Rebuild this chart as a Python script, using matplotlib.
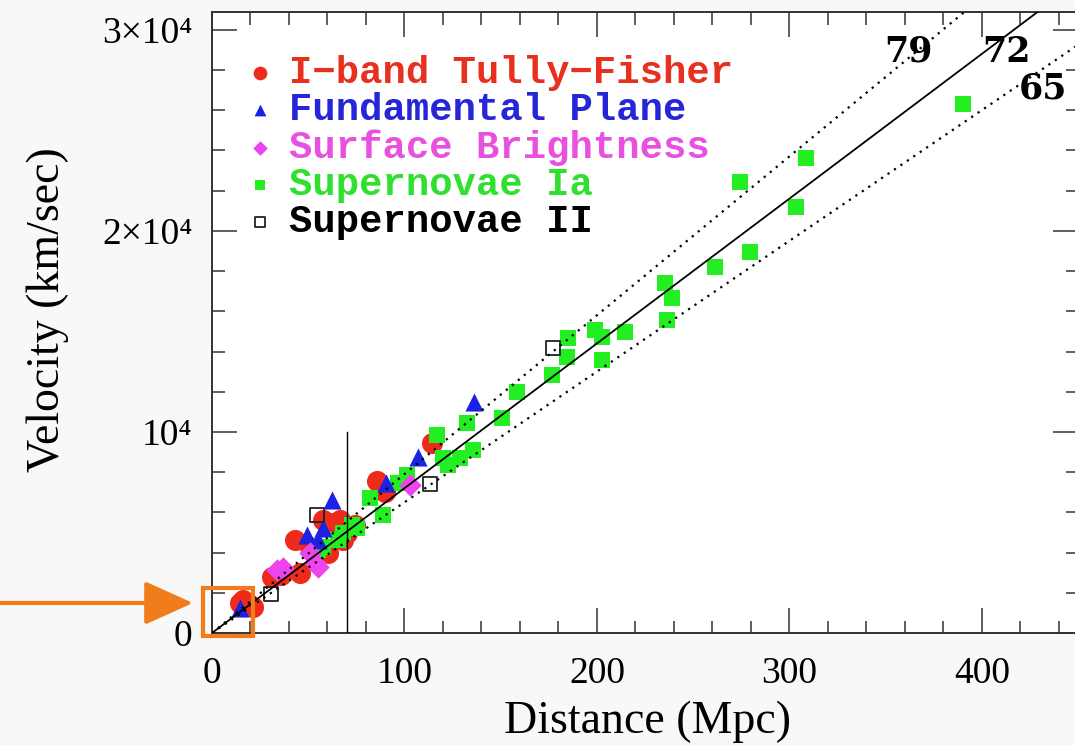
import numpy as np
import matplotlib
matplotlib.use("Agg")
from matplotlib import pyplot as plt
from matplotlib.patches import Rectangle
from matplotlib.ticker import MultipleLocator

# Hubble diagram data (distance in Mpc, velocity in km/s)
tf_d = [114.3, 85.7, 89.9, 43.0, 45.7, 31.2, 16.1, 19.7, 21.3, 14.5, 57.7, 66.5,
        62.9, 70.1, 68.0, 50.9, 60.3, 74.3, 36.0]
tf_v = [9450, 7560, 7010, 4630, 2980, 2790, 1640, 1390, 1290, 1490, 5620, 5620,
        5470, 4970, 4630, 4280, 3980, 5370, 2880]

fp_d = [136.1, 107.0, 90.4, 62.3, 57.7, 49.4, 14.5, 55.0]
fp_v = [11490, 8750, 7460, 6610, 5220, 4870, 1240, 4620]

sbf_d = [36.9, 33.8, 53.5, 55.0, 102.9, 50.9]
sbf_v = [3230, 3130, 3480, 3280, 7360, 3980]

sn1a_d = [390.1, 308.6, 274.3, 303.4, 279.5, 261.3, 235.3, 239.0, 236.4, 214.5,
          199.0, 202.6, 185.0, 184.4, 202.6, 176.6, 158.4, 150.6, 116.9, 132.5,
          120.0, 128.8, 135.6, 101.3, 96.6, 82.1, 88.8, 72.7, 75.3, 68.0, 57.7,
          55.1, 65.5, 122.6]
sn1a_v = [26310, 23620, 22430, 21180, 18950, 18200, 17400, 16660, 15570, 14970,
          15070, 14720, 14670, 13730, 13580, 12830, 11990, 10690, 9850, 10440,
          8700, 8700, 9100, 7860, 7460, 6710, 5870, 5370, 5220, 4970, 4280,
          4130, 4620, 8350]

sn2_d = [30.6, 54.5, 113.2, 177.1]
sn2_v = [1940, 5870, 7410, 14170]

h0_vals = [79, 72, 65]
h0_styles = [(0, (1, 2.5)), "-", (0, (1, 2.5))]
h0_widths = [1.6, 1.3, 1.6]
h0_label_pos = [(362, 28900), (413, 28900), (432, 27100)]

vline_x = 70
vline_top = 10000

xticks = [0, 100, 200, 300, 400]
yticks = [0, 10000, 20000, 30000]
yticklabels = ["0", "10\u2074", "2\u00d710\u2074", "3\u00d710\u2074"]

fig = plt.figure(figsize=(10.75, 7.45), dpi=100, facecolor="#f8f8f6")
ax = fig.add_axes([212 / 1075, 112 / 745, 866 / 1075, 621.3 / 745])
ax.set_facecolor("white")

ax.scatter(tf_d, tf_v, s=230, marker="o", color="#ee2a1a", lw=0, label="I\u2212band Tully\u2212Fisher", zorder=3)
ax.scatter(fp_d, fp_v, s=170, marker="^", color="#1a22e6", lw=0, label="Fundamental Plane", zorder=4)
ax.scatter(sbf_d, sbf_v, s=130, marker="D", color="#ee44ee", lw=0, label="Surface Brightness", zorder=4)
ax.scatter(sn1a_d, sn1a_v, s=125, marker="s", color="#22ee22", lw=0, label="Supernovae Ia", zorder=3)
ax.scatter(sn2_d, sn2_v, s=110, marker="s", facecolor="none", edgecolor="#222222", lw=1.3,
           label="Supernovae II", zorder=4)

xs = np.array([0, 450])
for h, ls, lw, (tx, ty) in zip(h0_vals, h0_styles, h0_widths, h0_label_pos):
    ax.plot(xs, h * xs, color="black", ls=ls, lw=lw, zorder=5)
    ax.text(tx, ty, str(h), fontsize=25, family="DejaVu Serif", weight="bold",
            ha="center", va="center", zorder=6)

ax.plot([vline_x, vline_x], [0, vline_top], color="black", lw=1.0, zorder=5)

ax.set_xlim(0, 450)
ax.set_ylim(0, 30900)
ax.set_xticks(xticks)
ax.set_yticks(yticks)
ax.set_yticklabels(yticklabels)
ax.xaxis.set_minor_locator(MultipleLocator(20))
ax.yaxis.set_minor_locator(MultipleLocator(2000))
ax.tick_params(which="both", direction="in", top=True, right=True, color="#333333", width=1.1)
ax.tick_params(axis="x", which="major", length=18, pad=17, labelsize=27, labelfontfamily="Liberation Serif")
ax.tick_params(axis="y", which="major", length=18, pad=14, labelsize=27, labelfontfamily="Liberation Serif")
ax.tick_params(which="minor", length=9)
for sp in ax.spines.values():
    sp.set_linewidth(1.4)
    sp.set_color("#333333")

ax.set_xlabel("Distance (Mpc)", fontsize=33, family="Liberation Serif")
ax.set_ylabel("Velocity (km/sec)", fontsize=33, family="Liberation Serif")
ax.xaxis.set_label_coords(0.503, -0.108)
ax.yaxis.set_label_coords(-0.165, 0.521)

leg = ax.legend(loc="upper left", bbox_to_anchor=(0.024, 0.955), frameon=False, markerscale=0.65,
                handlelength=0.6, handletextpad=0.45, labelspacing=0.03, borderaxespad=0,
                prop={"family": "Liberation Mono", "weight": "bold", "size": 28},
                labelcolor=["#e8301e", "#2626d8", "#e850e0", "#30e030", "black"])

# orange call-out box and arrow
orange = "#f07c1c"
fig.add_artist(Rectangle((203 / 1075, 109 / 745), 50 / 1075, 48 / 745, transform=fig.transFigure,
                         fill=False, edgecolor=orange, lw=3))
ax.annotate("", xy=(193, 142), xycoords="figure pixels", xytext=(0, 142), textcoords="figure pixels",
            arrowprops=dict(arrowstyle="-|>,head_length=3.0,head_width=1.35", color=orange, lw=3,
                            shrinkA=0, shrinkB=0))

fig.savefig("out.png", dpi=100, facecolor=fig.get_facecolor())
